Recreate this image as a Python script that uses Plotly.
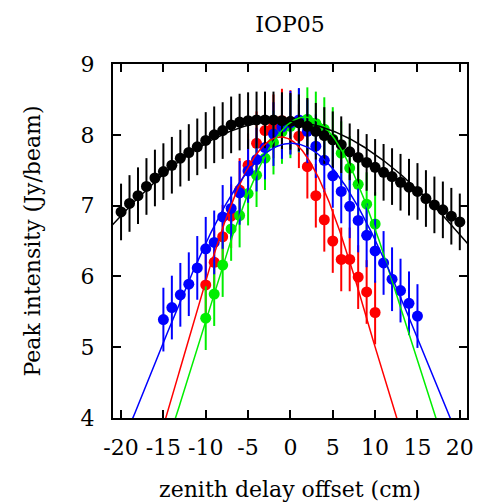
import numpy as np
import plotly.graph_objects as go

# ---- data ----
x_black = list(range(-20, 21))
y_black = [6.91, 7.03, 7.14, 7.27, 7.39, 7.48, 7.57, 7.67, 7.75, 7.83, 7.92, 8.00, 8.06,
           8.14, 8.18, 8.20, 8.21, 8.21, 8.21, 8.20, 8.19, 8.17, 8.12, 8.05, 7.99, 7.93,
           7.86, 7.76, 7.68, 7.61, 7.54, 7.47, 7.41, 7.33, 7.26, 7.20, 7.10, 7.01, 6.94,
           6.85, 6.77]
err_black = 0.40

x_blue = list(range(-15, 16))
y_blue = [5.39, 5.56, 5.74, 5.89, 6.12, 6.39, 6.48, 6.84, 6.96, 7.18, 7.49, 7.65, 7.82,
          8.01, 8.11, 8.17, 8.21, 8.05, 7.84, 7.64, 7.42, 7.20, 6.99, 6.79, 6.58, 6.36,
          6.19, 5.96, 5.80, 5.62, 5.44]
err_blue = 0.45

x_red = list(range(-10, 11))
y_red = [5.88, 6.20, 6.56, 6.85, 7.22, 7.57, 7.88, 8.06, 8.12, 8.20, 8.18, 7.98, 7.55,
         7.14, 6.80, 6.50, 6.24, 6.24, 5.99, 5.78, 5.49]
err_red = 0.45

x_green = list(range(-10, 11))
y_green = [5.41, 5.75, 6.16, 6.67, 6.86, 7.17, 7.43, 7.67, 7.89, 8.04, 8.12, 8.20, 8.22,
           8.16, 8.08, 7.94, 7.74, 7.53, 7.30, 7.02, 6.74]
err_green = 0.45

# Gaussian fit parameters: (amplitude, centre, sigma)
fit_black = (8.20, -1.0, 31.8)
fit_blue = (7.88, 0.1, 16.06)
fit_red = (7.97, -1.15, 11.54)
fit_green = (8.25, 1.72, 12.7)

x_ticks = [-20, -15, -10, -5, 0, 5, 10, 15, 20]
x_ticktext = ["-20", "-15", "-10", "-5", "0", "5", "10", "15", "20"]
y_ticks = [4, 5, 6, 7, 8, 9]

FONT = "DejaVu Serif"
FS = 22

xf = np.linspace(-21, 21, 400)


def gauss(p):
    a, c, s = p
    return a * np.exp(-(xf - c) ** 2 / (2 * s ** 2))


fig = go.Figure()

series = [
    (x_red, y_red, err_red, "#ff0000"),
    (x_green, y_green, err_green, "#00ee00"),
    (x_blue, y_blue, err_blue, "#0000ff"),
    (x_black, y_black, err_black, "#000000"),
]
fits = [(fit_red, "#ff0000"), (fit_green, "#00ee00"), (fit_blue, "#0000ff"), (fit_black, "#000000")]

for (xs, ys, e, col) in series:
    fig.add_trace(go.Scatter(
        x=xs, y=ys, mode="markers",
        marker=dict(color=col, size=11, line=dict(width=0)),
        error_y=dict(type="constant", value=e, color=col, thickness=2, width=0),
        showlegend=False,
    ))

for (p, col) in fits:
    fig.add_trace(go.Scatter(
        x=xf, y=gauss(p), mode="lines",
        line=dict(color=col, width=1.5),
        showlegend=False, hoverinfo="skip",
    ))

fig.update_layout(
    width=477, height=502,
    margin=dict(l=113, r=10, t=64, b=84),
    paper_bgcolor="white", plot_bgcolor="white",
    font=dict(family=FONT, size=FS, color="black"),
    title=dict(text="IOP05", x=0.608, xanchor="center", y=0.966, yanchor="top",
               font=dict(family=FONT, size=FS, color="black")),
)

fig.update_xaxes(
    range=[-20.95, 20.85], automargin=False,
    tickvals=x_ticks, ticktext=x_ticktext,
    ticks="inside", ticklen=8, tickwidth=1.5, tickcolor="black",
    showline=True, linewidth=2, linecolor="black", mirror="allticks",
    showgrid=False, zeroline=False,
    tickfont=dict(family=FONT, size=FS),
    ticklabelstandoff=9,
    title=dict(text="zenith delay offset (cm)", font=dict(family=FONT, size=FS), standoff=22),
)
fig.update_yaxes(
    range=[4, 9], automargin=False,
    tickvals=y_ticks,
    ticks="inside", ticklen=8, tickwidth=1.5, tickcolor="black",
    showline=True, linewidth=2, linecolor="black", mirror="allticks",
    showgrid=False, zeroline=False,
    tickfont=dict(family=FONT, size=FS),
    ticklabelstandoff=12,
    title=dict(text="Peak intensity (Jy/beam)", font=dict(family=FONT, size=FS), standoff=34),
)

fig.write_html("out.html")
